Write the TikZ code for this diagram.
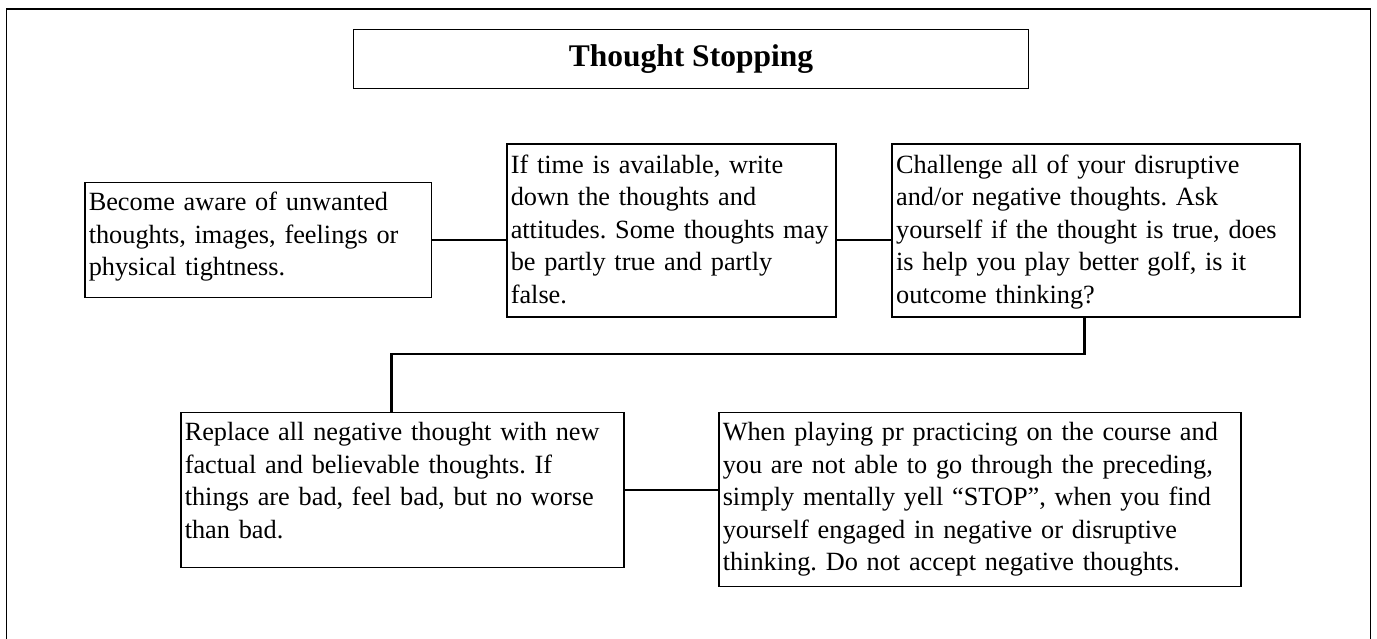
\documentclass[tikz,border=0pt]{standalone}
\usepackage{fontspec}
\setmainfont{Liberation Serif}
\tikzset{
  stepbox/.style={draw, line width=1.5pt, inner xsep=4pt, inner ysep=0pt, anchor=north west,
    align=left, font=\fontsize{26.3}{32.5}\selectfont\frenchspacing},
  titlebox/.style={draw, line width=1.5pt, inner sep=0pt, anchor=north west, align=center,
    font=\fontsize{31.5}{36}\selectfont\bfseries},
  link/.style={line width=2.2pt},
  frame/.style={line width=1.8pt}
}
\begin{document}
\begin{tikzpicture}[x=1pt,y=-1pt]
\useasboundingbox (0,0) rectangle (1377,639);
\fill[white] (0,0) rectangle (1377,639);
\draw[frame] (6.5,645) -- (6.5,9) -- (1370.5,9) -- (1370.5,645);
\node[titlebox, minimum width=675pt, minimum height=58.7pt] (title) at (352.7,29) {Thought Stopping};
\node[stepbox, text width=338.7pt, text height=28.3pt, text depth=87pt] (b1) at (84,181.7)
  {Become aware of unwanted\\thoughts, images, feelings or\\physical tightness.};
\node[stepbox, text width=321pt, text height=29pt, text depth=143.7pt] (b2) at (506,143.3)
  {If time is available, write\\down the thoughts and\\attitudes. Some thoughts may\\be partly true and partly\\false.};
\node[stepbox, text width=399.6pt, text height=29pt, text depth=143.7pt] (b3) at (891.4,143.3)
  {Challenge all of your disruptive\\and/or negative thoughts. Ask\\yourself if the thought is true, does\\is help you play better golf, is it\\outcome thinking?};
\node[stepbox, text width=435pt, text height=28.3pt, text depth=126.7pt] (b4) at (180,411.7)
  {Replace all negative thought with new\\factual and believable thoughts. If\\things are bad, feel bad, but no worse\\than bad.};
\node[stepbox, text width=514pt, text height=28.3pt, text depth=145.7pt] (b5) at (718,411.7)
  {When playing pr practicing on the course and\\you are not able to go through the preceding,\\simply mentally yell “STOP”, when you find\\yourself engaged in negative or disruptive\\thinking. Do not accept negative thoughts.};
\coordinate (k1) at (1084.5,354);
\coordinate (k2) at (391.5,354);
\draw[link] (b1.east) -- (b2.west |- b1.east);
\draw[link] (b2.east |- b1.east) -- (b3.west |- b1.east);
\draw[link] (b3.south -| k1) -- (k1) -- (k2) -- (b4.north -| k2);
\draw[link] (b4.east) -- (b5.west |- b4.east);
\end{tikzpicture}
\end{document}
